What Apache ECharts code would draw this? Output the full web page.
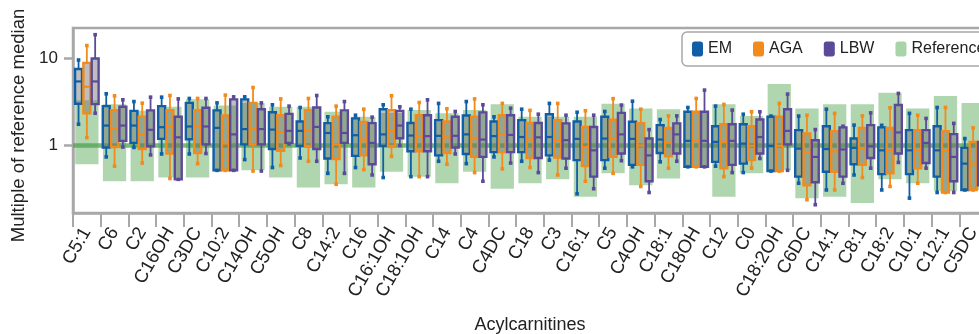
<!DOCTYPE html>
<html>
<head>
<meta charset="utf-8">
<style>
  html, body { margin: 0; padding: 0; background: #fff; }
  #chart { width: 979px; height: 334px; }
</style>
<script src="https://cdn.jsdelivr.net/npm/echarts@6/dist/echarts.min.js"></script>
</head>
<body>
<div id="chart"></div>
<script>
const categories = ['C5:1', 'C6', 'C2', 'C16OH', 'C3DC', 'C10:2', 'C14OH', 'C5OH', 'C8', 'C14:2', 'C16',
  'C16:1OH', 'C18:1OH', 'C14', 'C4', 'C4DC', 'C18', 'C3', 'C16:1', 'C5', 'C4OH', 'C18:1', 'C18OH',
  'C12', 'C0', 'C18:2OH', 'C6DC', 'C14:1', 'C8:1', 'C18:2', 'C10:1', 'C12:1', 'C5DC']

// reference range [low, high] per acylcarnitine
const refRange = [
  [0.61, 3.3], [0.39, 2.97], [0.39, 2.5], [0.43, 2.77], [0.43, 3.37], [0.52, 2.87], [0.52, 3.07],
  [0.43, 2.77], [0.33, 2.77], [0.36, 2.43], [0.33, 2.13], [0.50, 2.36], [0.44, 2.54], [0.37, 2.33],
  [0.50, 2.54], [0.32, 2.97], [0.37, 2.13], [0.41, 2.13], [0.26, 2.13], [0.48, 3.0], [0.35, 2.65],
  [0.42, 2.6], [0.57, 2.43], [0.26, 2.97], [0.48, 2.17], [0.52, 5.04], [0.25, 2.65], [0.26, 2.97],
  [0.22, 2.97], [0.41, 4.0], [0.37, 2.65], [0.30, 3.67], [0.31, 3.07]
]

// [min, q1, median, q3, max]
const emStats = [
  [1.75, 3.0, 5.4, 7.5, 9.5], [0.74, 0.95, 1.69, 2.82, 3.9], [0.95, 1.07, 1.69, 2.49, 3.18],
  [0.80, 1.19, 1.62, 2.82, 3.57], [0.80, 1.18, 1.65, 3.07, 3.45], [0.52, 0.52, 1.59, 2.52, 3.07],
  [0.69, 1.03, 1.54, 3.37, 3.6], [0.56, 0.91, 1.52, 2.4, 2.92], [0.72, 0.99, 1.47, 1.88, 2.72],
  [0.48, 0.71, 1.39, 1.80, 2.13], [0.56, 0.76, 1.31, 2.04, 2.22], [0.43, 0.99, 1.34, 2.6, 2.92],
  [0.44, 0.86, 1.30, 1.81, 2.6], [0.66, 0.77, 1.29, 1.95, 3.03], [0.62, 0.80, 1.34, 2.2, 3.18],
  [0.74, 0.84, 1.28, 1.88, 2.13], [0.66, 0.84, 1.25, 1.95, 2.6], [0.68, 0.77, 1.25, 2.28, 3.03],
  [0.28, 0.68, 1.19, 1.88, 2.4], [0.55, 0.68, 1.2, 2.13, 2.45], [0.57, 0.60, 1.19, 1.87, 3.21],
  [0.65, 0.82, 1.17, 1.71, 1.98], [0.57, 0.57, 1.13, 2.43, 2.72], [0.58, 0.65, 1.1, 1.66, 2.82],
  [0.49, 0.62, 1.05, 1.75, 2.28], [0.51, 0.51, 0.99, 2.13, 2.17], [0.37, 0.44, 0.92, 1.5, 2.17],
  [0.31, 0.5, 0.91, 1.66, 2.6], [0.46, 0.61, 0.94, 1.2, 1.71], [0.31, 0.47, 0.88, 1.61, 1.7],
  [0.25, 0.47, 0.88, 1.5, 2.33], [0.29, 0.44, 0.88, 1.66, 2.72], [0.31, 0.31, 0.62, 0.94, 1.2]
]

const agaStats = [
  [1.23, 2.33, 4.7, 8.8, 13.9], [0.58, 0.96, 1.55, 2.54, 3.7], [0.63, 0.91, 1.34, 2.13, 3.05],
  [0.42, 0.81, 1.63, 2.54, 3.73], [0.62, 0.82, 1.66, 2.54, 3.45], [0.52, 0.52, 1.05, 2.2, 3.77],
  [0.51, 1.03, 1.54, 3.07, 4.6], [0.59, 0.87, 1.41, 2.22, 3.41], [0.66, 0.99, 1.47, 2.54, 3.45],
  [0.36, 0.70, 1.03, 2.13, 2.82], [0.53, 0.77, 1.17, 1.86, 2.6], [0.75, 0.99, 1.46, 2.54, 3.7],
  [0.44, 0.86, 1.28, 2.22, 3.1], [0.61, 0.82, 1.24, 1.88, 2.63], [0.49, 0.74, 1.22, 2.13, 3.41],
  [0.54, 0.84, 1.34, 2.22, 3.03], [0.56, 0.72, 1.17, 1.81, 2.52], [0.46, 0.73, 1.15, 1.95, 3.03],
  [0.39, 0.58, 0.96, 1.63, 2.5], [0.48, 0.74, 1.2, 1.97, 3.43], [0.34, 0.60, 1.0, 1.8, 2.6],
  [0.55, 0.75, 1.08, 1.59, 2.18], [0.57, 0.57, 1.13, 2.43, 3.45], [0.44, 0.55, 1.1, 1.75, 2.95],
  [0.55, 0.68, 0.99, 1.66, 2.43], [0.51, 0.51, 0.99, 2.13, 3.03], [0.24, 0.35, 0.84, 1.37, 2.22],
  [0.31, 0.5, 0.86, 1.46, 2.33], [0.43, 0.6, 0.94, 1.59, 2.18], [0.34, 0.48, 0.88, 1.59, 2.7],
  [0.37, 0.55, 0.88, 1.5, 2.22], [0.29, 0.29, 0.88, 1.46, 2.72], [0.31, 0.31, 0.62, 1.1, 1.59]
]

const lbwStats = [
  [2.34, 2.97, 5.4, 9.9, 18.5], [0.96, 1.13, 1.69, 2.77, 3.33], [0.78, 0.98, 1.51, 2.52, 3.57],
  [0.41, 0.41, 1.24, 2.13, 3.41], [0.81, 1.03, 1.65, 2.70, 3.45], [0.52, 0.52, 1.34, 3.37, 3.6],
  [0.51, 1.03, 1.54, 2.6, 3.07], [1.04, 1.07, 1.47, 2.3, 2.82], [0.66, 0.91, 1.63, 2.72, 3.73],
  [0.48, 1.07, 1.39, 2.52, 3.18], [0.46, 0.61, 1.07, 1.8, 2.11], [1.0, 1.21, 1.69, 2.49, 2.77],
  [0.44, 0.86, 1.28, 2.22, 3.33], [0.80, 0.95, 1.29, 2.13, 2.45], [0.39, 0.74, 1.17, 2.39, 2.92],
  [0.63, 0.84, 1.32, 2.22, 2.67], [0.49, 0.72, 1.24, 1.81, 2.28], [0.55, 0.71, 1.15, 1.79, 2.22],
  [0.32, 0.44, 0.88, 1.63, 2.22], [0.67, 0.81, 1.34, 2.36, 2.9], [0.29, 0.39, 0.77, 1.2, 1.52],
  [0.66, 0.81, 1.34, 1.79, 2.18], [0.57, 0.57, 1.13, 2.43, 4.3], [0.49, 0.6, 1.13, 1.75, 2.54],
  [0.71, 0.81, 1.25, 1.98, 2.43], [0.52, 1.03, 1.47, 2.6, 3.87], [0.21, 0.38, 0.74, 1.15, 1.52],
  [0.37, 0.44, 0.9, 1.61, 1.66], [0.55, 0.72, 0.98, 1.71, 2.36], [0.64, 0.81, 1.41, 2.9, 3.94],
  [0.55, 0.63, 1.07, 1.5, 2.04], [0.29, 0.39, 0.74, 1.35, 1.79], [0.3, 0.35, 0.7, 1.1, 1.5]
]

const FONT = 'Liberation Sans, Arial, sans-serif'
const TEXT = '#222'
const AXIS = '#a8a8a8'
const colors = { EM: '#0f5ea6', AGA: '#f28a1c', LBW: '#5b4a98', Reference: '#a9d3a9' }

function boxRenderer(offset, color) {
  return function (params, api) {
    const idx = api.value(0)
    const bw = api.coord([1, 1])[0] - api.coord([0, 1])[0]
    const cx = api.coord([idx, 1])[0] + offset * bw
    const w = bw * 0.25
    const y = (v) => api.coord([idx, v])[1]
    const yMin = y(api.value(1))
    const yQ1 = y(api.value(2))
    const yMed = y(api.value(3))
    const yQ3 = y(api.value(4))
    const yMax = y(api.value(5))
    const cap = 3.6
    return {
      type: 'group',
      children: [
        { type: 'line', shape: { x1: cx, y1: yMax, x2: cx, y2: yQ3 }, style: { stroke: color, lineWidth: 1.8 } },
        { type: 'line', shape: { x1: cx, y1: yQ1, x2: cx, y2: yMin }, style: { stroke: color, lineWidth: 1.8 } },
        { type: 'rect', shape: { x: cx - w / 2, y: yQ3, width: w, height: yQ1 - yQ3 },
          style: { fill: 'rgba(110,110,110,0.45)', stroke: color, lineWidth: 2.4 } },
        { type: 'line', shape: { x1: cx - w / 2, y1: yMed, x2: cx + w / 2, y2: yMed }, style: { stroke: color, lineWidth: 2.2 } },
        { type: 'rect', shape: { x: cx - cap / 2, y: yMax - cap / 2, width: cap, height: cap }, style: { fill: color } },
        { type: 'rect', shape: { x: cx - cap / 2, y: yMin - cap / 2, width: cap, height: cap }, style: { fill: color } }
      ]
    }
  }
}

function refRenderer(params, api) {
  const idx = api.value(0)
  const bw = api.coord([1, 1])[0] - api.coord([0, 1])[0]
  const cx = api.coord([idx, 1])[0]
  const w = bw * 0.84
  const yLow = api.coord([idx, api.value(1)])[1]
  const yHigh = api.coord([idx, api.value(2)])[1]
  return {
    type: 'rect',
    shape: { x: cx - w / 2, y: yHigh, width: w, height: yLow - yHigh },
    style: { fill: 'rgba(110,180,110,0.55)' }
  }
}

function boxSeries(name, stats, offset) {
  return {
    name: name,
    type: 'custom',
    z: 10,
    itemStyle: { color: colors[name] },
    renderItem: boxRenderer(offset, colors[name]),
    encode: { x: 0, y: [1, 2, 3, 4, 5] },
    data: stats.map((s, i) => [i].concat(s))
  }
}

const chart = echarts.init(document.getElementById('chart'))
chart.setOption({
  animation: false,
  backgroundColor: '#fff',
  textStyle: { fontFamily: FONT },
  grid: {
    left: 73,
    top: 28,
    width: 914,
    height: 185,
    show: true,
    borderColor: AXIS,
    borderWidth: 2.5,
    outerBoundsMode: 'none'
  },
  legend: {
    left: 682,
    top: 32,
    width: 320,
    padding: [9, 14, 9, 10],
    itemWidth: 11,
    itemHeight: 15,
    itemGap: 21,
    borderColor: AXIS,
    borderWidth: 1.5,
    borderRadius: 5,
    backgroundColor: '#fff',
    textStyle: { fontSize: 16, color: TEXT, fontFamily: FONT },
    data: [
      { name: 'EM', icon: 'roundRect', itemStyle: { color: colors.EM } },
      { name: 'AGA', icon: 'roundRect', itemStyle: { color: colors.AGA } },
      { name: 'LBW', icon: 'roundRect', itemStyle: { color: colors.LBW } },
      { name: 'Reference', icon: 'roundRect', itemStyle: { color: colors.Reference } }
    ]
  },
  xAxis: {
    type: 'category',
    data: categories,
    name: 'Acylcarnitines',
    nameLocation: 'middle',
    nameGap: 103,
    nameTextStyle: { fontSize: 18, color: TEXT, fontFamily: FONT },
    axisLine: { lineStyle: { color: AXIS, width: 2.5 } },
    axisTick: { show: true, length: 14, lineStyle: { color: AXIS, width: 2 } },
    axisLabel: { interval: 0, rotate: 60, margin: 16, fontSize: 18.5, color: TEXT, fontFamily: FONT },
    splitLine: { show: false }
  },
  yAxis: {
    type: 'log',
    logBase: 10,
    min: 0.169,
    max: 22.06,
    name: 'Multiple of reference median',
    nameLocation: 'middle',
    nameGap: 44,
    nameTextStyle: { fontSize: 18.5, color: TEXT, fontFamily: FONT, padding: [0, 10, 0, 0] },
    axisLine: { show: true, lineStyle: { color: AXIS, width: 2.5 } },
    axisTick: { show: true, length: 9, customValues: [1, 10], lineStyle: { color: AXIS, width: 2.5 } },
    axisLabel: { customValues: [1, 10], margin: 15, fontSize: 17, color: TEXT, fontFamily: FONT },
    splitLine: { show: false }
  },
  series: [
    {
      name: 'Reference',
      type: 'custom',
      z: 1,
      itemStyle: { color: colors.Reference },
      renderItem: refRenderer,
      encode: { x: 0, y: [1, 2] },
      data: refRange.map((r, i) => [i, r[0], r[1]]),
      markLine: {
        silent: true,
        symbol: 'none',
        z: 3,
        label: { show: false },
        lineStyle: { color: 'rgba(80,160,80,0.75)', width: 4.5, type: 'solid' },
        data: [{ yAxis: 1 }]
      }
    },
    boxSeries('EM', emStats, -0.3),
    boxSeries('AGA', agaStats, 0),
    boxSeries('LBW', lbwStats, 0.3)
  ]
})
</script>
</body>
</html>
